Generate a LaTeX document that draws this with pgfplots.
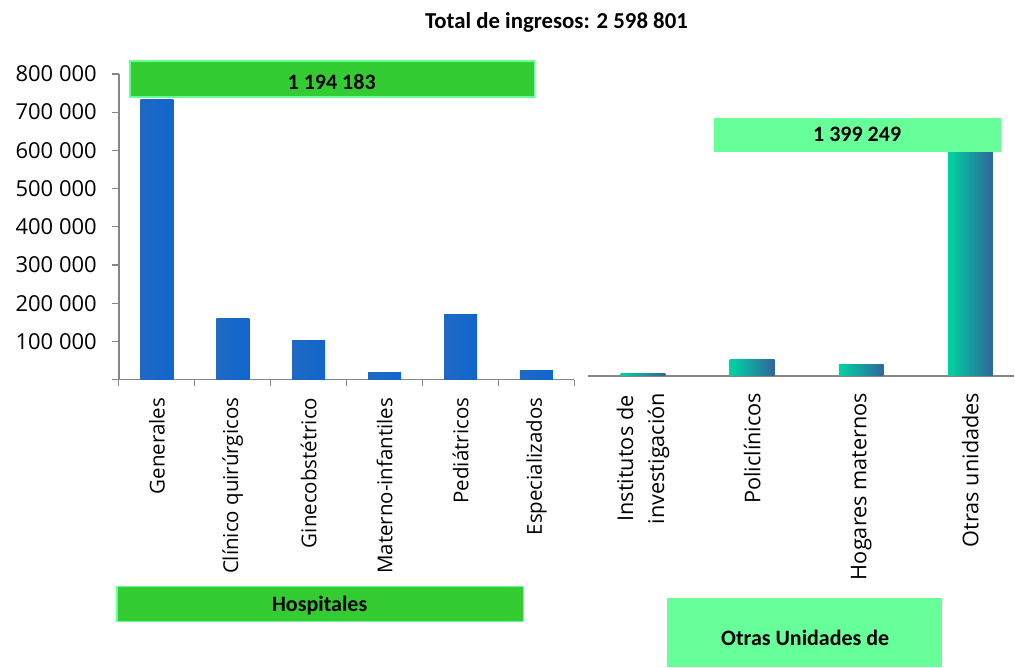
\documentclass[border=0pt]{standalone}
\usepackage{fontspec}
\setmainfont{Carlito}
\newfontfamily\osans{Open Sans}
\usepackage{pgfplots}
\pgfplotsset{compat=1.18}
\definecolor{gbox}{RGB}{51,204,51}
\definecolor{lbox}{RGB}{102,255,153}
\definecolor{axgray}{RGB}{134,134,134}
\definecolor{b1}{RGB}{32,105,195}
\definecolor{b2}{RGB}{10,140,245}
\definecolor{b3}{RGB}{16,102,205}
\definecolor{t1}{RGB}{0,212,162}
\definecolor{t2}{RGB}{48,100,155}
\pgfplotsset{
  lbar/.style={ybar, bar width=33pt, bar shift=0pt, draw=none, left color=b1, middle color=b2, right color=b3},
  rbar/.style={ybar, bar width=45pt, bar shift=0pt, draw=none, left color=t1, right color=t2},
}
\begin{document}
\begin{tikzpicture}[x=1pt,y=1pt]
\path (0,0) rectangle (1015,668);
% Hospitales
\begin{axis}[
  at={(119pt,288pt)}, anchor=south west,
  scale only axis, width=456pt, height=306pt,
  xmin=-0.5, xmax=5.5, ymin=0, ymax=800000,
  axis x line*=bottom, axis y line*=left,
  axis line style={axgray, line width=1.5pt, -},
  tick align=outside, major tick length=7pt, minor tick length=6pt,
  tick style={axgray, line width=1.2pt},
  scaled y ticks=false,
  ytick={0,100000,200000,300000,400000,500000,600000,700000,800000},
  yticklabels={{},100 000,200 000,300 000,400 000,500 000,600 000,700 000,800 000},
  yticklabel style={font=\osans\fontsize{22}{26}\selectfont, anchor=east, inner sep=0pt, xshift=-15pt},
  xtick={0,1,2,3,4,5},
  xticklabels={Generales,Clínico quirúrgicos,Ginecobstétrico,Materno-infantiles,Pediátricos,Especializados},
  minor xtick={-0.5,0.5,1.5,2.5,3.5,4.5,5.5},
  major x tick style={draw=none},
  xticklabel style={font=\osans\fontsize{20.5}{24}\selectfont, rotate=90, anchor=east, inner sep=0pt, xshift=-11pt},
  /pgf/number format/assume math mode=true,
]
\addplot[lbar] coordinates {(0,733900)};
\addplot[lbar] coordinates {(1,158700)};
\addplot[lbar] coordinates {(2,102000)};
\addplot[lbar] coordinates {(3,18300)};
\addplot[lbar] coordinates {(4,171700)};
\addplot[lbar] coordinates {(5,24300)};
\end{axis}
% Otras unidades
\begin{axis}[
  at={(589pt,292pt)}, anchor=south west,
  scale only axis, width=426pt, height=224pt,
  xmin=-0.5, xmax=3.4, ymin=0, ymax=585620,
  axis x line*=bottom, axis y line=none,
  axis line style={axgray, line width=2pt, -},
  ytick=\empty, scaled y ticks=false,
  xtick={0,1,2,3},
  xticklabels={{Institutos de\\investigación},Policlínicos,Hogares maternos,Otras unidades},
  major x tick style={draw=none},
  xticklabel style={font=\osans\fontsize{21.7}{31}\selectfont, rotate=90, anchor=east, inner sep=0pt, align=center, xshift=-17pt},
]
\addplot[rbar] coordinates {(0,4400)};
\addplot[rbar] coordinates {(1,41000)};
\addplot[rbar] coordinates {(2,28000)};
\addplot[rbar] coordinates {(3,1325849)};
\end{axis}
% boxes
\filldraw[fill=gbox, draw=lbox, line width=1.5pt] (130,571) rectangle (535,607);
\node[font=\bfseries\fontsize{22}{26}\selectfont] at (332,586) {1 194 183};
\fill[lbox] (715,516) rectangle (1002,550);
\node[font=\bfseries\fontsize{22}{26}\selectfont] at (858,533) {1 399 249};
\filldraw[fill=gbox, draw=lbox, line width=1.5pt] (117,46) rectangle (524,81);
\node[font=\bfseries\fontsize{22}{26}\selectfont] at (320,62) {Hospitales};
\fill[lbox] (668,0) rectangle (943,69);
\node[font=\bfseries\fontsize{22}{26}\selectfont] at (806,30) {Otras Unidades de};
\node[font=\bfseries\fontsize{22.8}{27}\selectfont] at (557,646) {Total de ingresos: 2 598 801};
\end{tikzpicture}
\end{document}
